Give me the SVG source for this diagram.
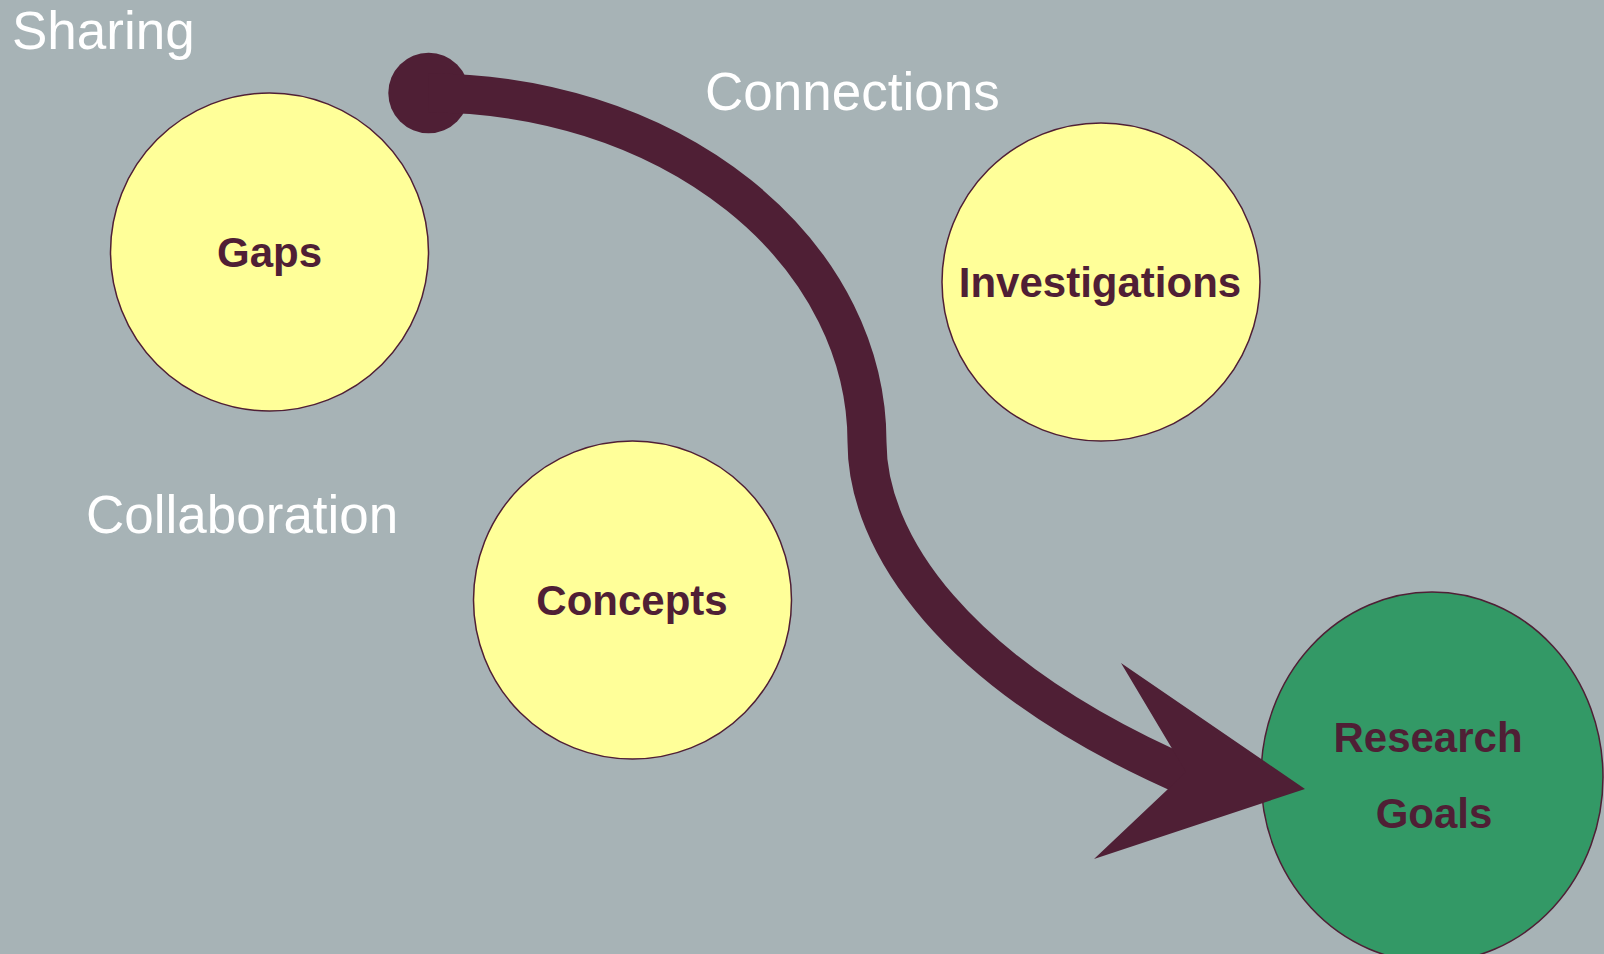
<svg xmlns="http://www.w3.org/2000/svg" width="1604" height="954" viewBox="0 0 1604 954">
<style>
.bg{fill:#A7B3B6}
.node{stroke:#4F1F35;stroke-width:1.5}
.yellow{fill:#FFFF99}
.green{fill:#339966}
.lbl{font-family:"Liberation Sans",Arial,sans-serif;font-weight:bold;font-size:42px;fill:#4F1F35;text-anchor:middle}
.free{font-family:"Liberation Sans",Arial,sans-serif;font-size:53px;fill:#FFFFFF}
.shaft{fill:none;stroke:#4F1F35;stroke-width:39}
.head{fill:#4F1F35}
</style>
<rect class="bg" x="0" y="0" width="1604" height="954"/>
<g id="free-labels">
<text class="free" x="12" y="49">Sharing</text>
<text class="free" x="705" y="110">Connections</text>
<text class="free" x="86" y="533">Collaboration</text>
</g>
<g id="node-gaps">
<circle class="node yellow" cx="269.5" cy="252" r="159"/>
<text class="lbl" x="269.5" y="267">Gaps</text>
</g>
<g id="node-investigations">
<circle class="node yellow" cx="1101" cy="282" r="159"/>
<text class="lbl" x="1100" y="297">Investigations</text>
</g>
<g id="node-concepts">
<circle class="node yellow" cx="632.5" cy="600" r="159"/>
<text class="lbl" x="632" y="615">Concepts</text>
</g>
<g id="node-research-goals">
<ellipse class="node green" cx="1432" cy="777" rx="171" ry="185"/>
<text class="lbl" x="1428" y="752">Research</text>
<text class="lbl" x="1434" y="828">Goals</text>
</g>
<g id="connectors">
<circle class="head" cx="428.6" cy="93" r="40.3"/>
<path class="shaft" d="M 428.6 93 A 438 349 0 0 1 867 442 C 867 540 950 675 1195 780"/>
<polygon class="head" points="1305,789 1121,663 1186,772 1094,859"/>
</g>
</svg>
